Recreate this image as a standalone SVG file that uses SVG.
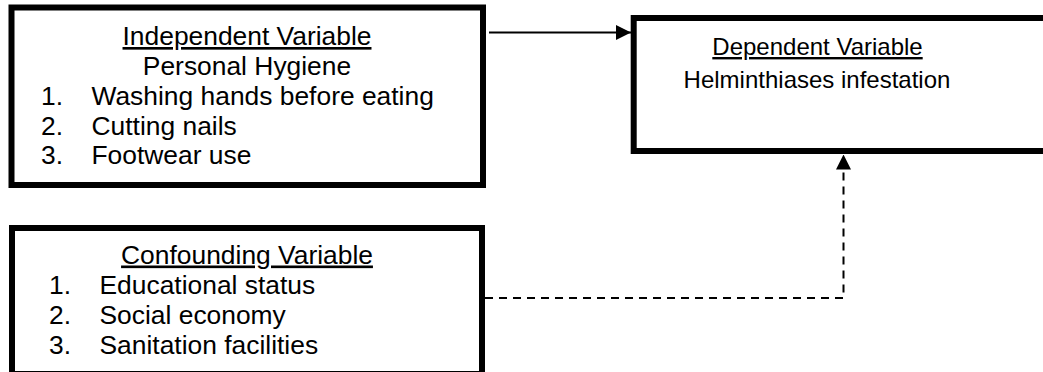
<svg xmlns="http://www.w3.org/2000/svg" width="1043" height="372" viewBox="0 0 1043 372">
<style>
.box{fill:#fff;stroke:#000;stroke-width:6}
.t{font-family:"Liberation Sans",Arial,sans-serif;font-size:26.4px;fill:#000}
.t2{font-family:"Liberation Sans",Arial,sans-serif;font-size:24px;fill:#000}
.c{text-anchor:middle}
.u{text-decoration:underline}
.conn{fill:none;stroke:#000;stroke-width:2}
.dash{stroke-dasharray:8 6}
</style>
<defs>
<marker id="ah" viewBox="0 0 10 10" refX="10" refY="5" markerWidth="15" markerHeight="15" markerUnits="userSpaceOnUse" orient="auto">
<path d="M0,0 L10,5 L0,10 Z" fill="#000"/>
</marker>
</defs>
<rect width="1043" height="372" fill="#fff"/>
<g id="independent">
<rect class="box" x="11.5" y="7.5" width="471.5" height="177.5"/>
<text class="t c u" x="247" y="45">Independent Variable</text>
<text class="t c" x="247" y="75">Personal Hygiene</text>
<text class="t" x="41" y="104.5">1.</text><text class="t" x="91.5" y="104.5">Washing hands before eating</text>
<text class="t" x="41" y="134.5">2.</text><text class="t" x="91.5" y="134.5">Cutting nails</text>
<text class="t" x="41" y="164">3.</text><text class="t" x="91.5" y="164">Footwear use</text>
</g>
<g id="dependent">
<rect class="box" x="633.7" y="18" width="420" height="133"/>
<text class="t2 c u" x="817.5" y="55">Dependent Variable</text>
<text class="t2 c" x="817" y="88">Helminthiases infestation</text>
</g>
<g id="confounding">
<rect class="box" x="12" y="228" width="470" height="146"/>
<text class="t c u" x="247" y="263.5">Confounding Variable</text>
<text class="t" x="49" y="293.5">1.</text><text class="t" x="99.5" y="293.5">Educational status</text>
<text class="t" x="49" y="323.5">2.</text><text class="t" x="99.5" y="323.5">Social economy</text>
<text class="t" x="49" y="353.5">3.</text><text class="t" x="99.5" y="353.5">Sanitation facilities</text>
</g>
<g id="connectors">
<path class="conn" d="M489,32.5 L631,32.5" marker-end="url(#ah)"/>
<path class="conn dash" d="M485,298 L843.5,298 L843.5,154.5" marker-end="url(#ah)"/>
</g>
</svg>
